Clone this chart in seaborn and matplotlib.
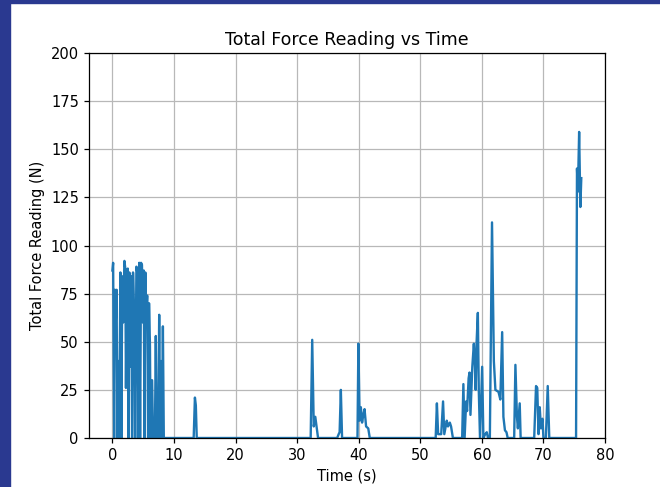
import matplotlib
matplotlib.use("Agg")
import matplotlib.pyplot as plt
from matplotlib.patches import Rectangle
import seaborn as sns

# Force bursts recorded during the run (time in s, force in N)
burst_start_t = [0.0, 0.12, 0.28, 0.4, 0.55, 0.68, 0.8, 0.95, 1.1, 1.3, 1.45, 1.6, 1.75, 1.95,
                 2.1, 2.2, 2.35, 2.5, 2.6, 2.75, 2.9, 3.05, 3.2, 3.35, 3.55, 3.7, 3.9, 4.05,
                 4.2, 4.35, 4.5, 4.65, 4.8, 4.95, 5.1, 5.2, 5.35, 5.5, 5.65, 5.8, 5.95, 6.1,
                 6.2, 6.45, 6.6, 6.9, 7.05, 7.2, 7.45, 7.6, 7.75, 7.9, 8.05, 8.2, 8.35]
burst_start_f = [87, 91, 0, 77, 60, 77, 0, 40, 0, 86, 0, 84, 60, 92,
                 88, 26, 85, 88, 0, 86, 37, 84, 0, 86, 62, 0, 89, 86,
                 0, 91, 0, 91, 90, 60, 87, 0, 86, 62, 74, 0, 70, 48,
                 0, 30, 0, 0, 53, 0, 0, 64, 0, 40, 0, 58, 0]

burst_13_t = [13.2, 13.4, 13.55, 13.7]
burst_13_f = [0, 21, 17, 0]

burst_32_t = [32.2, 32.45, 32.7, 32.95, 33.15, 33.4]
burst_32_f = [0, 51, 6, 11, 6, 0]

burst_37_t = [36.5, 36.75, 36.9, 37.1, 37.3]
burst_37_f = [0, 2, 3, 25, 0]

burst_40_t = [39.8, 39.95, 40.15, 40.35, 40.55, 40.75, 40.95, 41.2, 41.55, 41.8]
burst_40_f = [0, 49, 9, 16, 8, 12, 15, 6, 5, 0]

burst_53_t = [52.5, 52.7, 52.9, 53.4, 53.7, 53.9, 54.3, 54.5, 54.8, 55.0, 55.3]
burst_53_f = [0, 18, 2, 2, 19, 2, 9, 6, 8, 6, 0]

burst_57_t = [56.8, 57.0, 57.2, 57.45, 57.6, 57.85, 58.0, 58.15, 58.45, 58.7, 58.85, 59.0,
              59.15, 59.35, 59.5, 59.7, 60.05, 60.25, 60.55, 60.8, 61.0, 61.3, 61.65, 61.95,
              62.2, 62.7, 63.0, 63.3, 63.5, 63.75, 64.0, 64.2, 65.25, 65.45, 65.7, 65.85,
              66.15, 66.3, 68.5, 68.8, 69.0, 69.2, 69.4, 69.6, 69.85, 70.0, 70.4, 70.7, 70.95]
burst_57_f = [0, 28, 0, 19, 14, 31, 34, 12, 37, 49, 40, 25,
              50, 65, 25, 0, 37, 0, 2, 3, 0, 0, 112, 40,
              25, 24, 20, 55, 11, 4, 3, 0, 0, 38, 11, 5,
              18, 0, 0, 27, 26, 2, 16, 5, 10, 0, 0, 27, 0]

burst_75_t = [75.3, 75.45, 75.6, 75.8, 76.0, 76.15]
burst_75_f = [0, 140, 128, 159, 120, 135]

time_s = (burst_start_t + burst_13_t + burst_32_t + burst_37_t + burst_40_t
          + burst_53_t + burst_57_t + burst_75_t)
force_n = (burst_start_f + burst_13_f + burst_32_f + burst_37_f + burst_40_f
           + burst_53_f + burst_57_f + burst_75_f)

x_ticks = [0, 10, 20, 30, 40, 50, 60, 70, 80]
y_ticks = [0, 25, 50, 75, 100, 125, 150, 175, 200]

W, H = 660, 487
fig = plt.figure(figsize=(W / 100, H / 100), dpi=100)
ax = fig.add_axes([89 / W, (H - 438) / H, (605 - 89) / W, (438 - 53) / H])

sns.lineplot(x=time_s, y=force_n, sort=False, estimator=None, ax=ax,
             color="#1f77b4", linewidth=1.7)

ax.set_xlim(-3.8, 80)
ax.set_ylim(0, 200)
ax.set_xticks(x_ticks)
ax.set_yticks(y_ticks)
ax.grid(True, color="#b8b8b8", linewidth=0.9)
ax.set_axisbelow(True)
ax.tick_params(labelsize=10.5, length=3.8, width=0.9)
for sp in ax.spines.values():
    sp.set_linewidth(0.9)
    sp.set_color("black")

ax.set_title("Total Force Reading vs Time", fontsize=12.5, pad=6)
ax.set_xlabel("Time (s)", fontsize=10.5)
ax.set_ylabel("Total Force Reading (N)", fontsize=10.5)

# navy frame strips on the left and top edges
navy = "#2a3990"
fig.add_artist(Rectangle((0, 0), 10 / W, 1, transform=fig.transFigure,
                         color=navy, zorder=10))
fig.add_artist(Rectangle((0, 1 - 3 / H), 1, 3 / H, transform=fig.transFigure,
                         color=navy, zorder=10))

fig.savefig("out.png", dpi=100)
